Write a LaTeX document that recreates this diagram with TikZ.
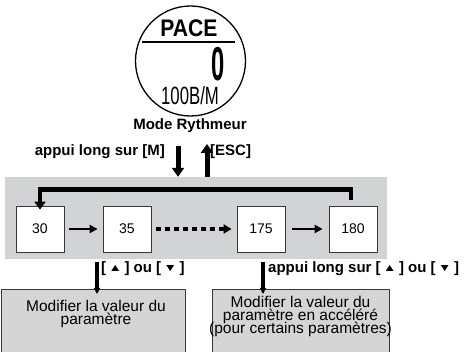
\documentclass[tikz,border=0pt]{standalone}
\usepackage{fontspec}
\setmainfont{Liberation Sans}
\usetikzlibrary{arrows.meta, positioning, calc}
\definecolor{panelgray}{RGB}{210,211,213}
\definecolor{boxgray}{RGB}{213,213,213}
\definecolor{edgegray}{RGB}{55,55,55}

\newcommand{\keyup}{[\,\raisebox{1pt}{\scalebox{0.9}[0.7]{▲}}\,]}
\newcommand{\keydown}{[\,\raisebox{1pt}{\scalebox{0.9}[0.7]{▼}}\,]}

\tikzset{
  lbl/.style={font=\fontsize{15}{15}\selectfont\bfseries, inner sep=0pt},
  valbox/.style={draw=edgegray, fill=white, line width=0.8pt,
    minimum width=48pt, minimum height=46pt, inner sep=0pt,
    font=\fontsize{14}{14}\selectfont},
  modbox/.style={draw=edgegray, fill=boxgray, line width=1pt,
    minimum height=80pt, inner sep=0pt, anchor=north west},
  modtext/.style={align=center, inner sep=0pt, anchor=north,
    font={\fontsize{15.5}{13}\selectfont\lineskiplimit=-20pt\relax}},
  bigarrow/.style={line width=5pt, -{Triangle[length=9pt,width=12pt]}},
  looparrow/.style={line width=4.5pt, -{Triangle[length=8pt,width=11pt]}},
  steparrow/.style={line width=2.5pt, -{Triangle[length=8pt,width=8pt]}},
  dotarrow/.style={line width=4.5pt, dash pattern=on 5pt off 4pt,
    -{Triangle[length=8pt,width=9pt]}},
  keyarrow/.style={line width=3.5pt, -{Triangle[length=6pt,width=6pt]}},
}

\begin{document}
\begin{tikzpicture}[x=1pt, y=-1pt]
  \useasboundingbox (0,0) rectangle (468,352);

  % affichage de la montre
  \draw[line width=1.3pt] (190.5,61) circle (55pt);
  \node[inner sep=0pt, font=\fontsize{24}{24}\selectfont\bfseries] (pace) at (189,28.5) {\scalebox{0.88}[1]{PACE}};
  \draw[line width=2pt] (142,42) -- (235,42);
  \node[inner sep=0pt, font=\fontsize{47.5}{47.5}\selectfont\bfseries] (zero) at (218,64) {\scalebox{0.5}[1]{0}};
  \node[inner sep=0pt, font=\fontsize{25}{25}\selectfont] (unit) at (190,96) {\scalebox{0.67}[1]{100B/M}};
  \node[lbl] (mode) at (190,126) {Mode Rythmeur};

  % panneau des valeurs
  \node[fill=panelgray, minimum width=382pt, minimum height=82pt, inner sep=0pt] (panel) at (196,218) {};

  \node[lbl, anchor=east] (longm) at (165,151.5) {appui long sur [M]};
  \node[lbl, anchor=west] (esc) at (210,151.5) {[ESC]};
  \coordinate (downstart) at (178,146);
  \coordinate (upstart) at (207,177);
  \draw[bigarrow] (downstart) -- (downstart |- panel.north);
  \draw[bigarrow] (upstart) -- ++(0,-33);

  % valeurs
  \node[valbox] (v30) at (40,229) {30};
  \node[valbox] (v35) at (127,229) {35};
  \node[valbox] (v175) at (261,229) {175};
  \node[valbox] (v180) at (353,229) {180};

  \draw[steparrow] ([xshift=5pt]v30.east) -- ([xshift=-5pt]v35.west);
  \draw[dotarrow] ([xshift=5pt]v35.east) -- ([xshift=-5pt]v175.west);
  \draw[steparrow] ([xshift=7pt]v175.east) -- ([xshift=-6pt]v180.west);
  \draw[looparrow, shorten <=6pt] ([xshift=-2pt]v180.north) -- ++(0,-16) -| ([yshift=-4pt]v30.north);

  % modification
  \node[modbox, minimum width=184pt] (mod1) at (1,289) {};
  \node[modbox, minimum width=177pt] (mod2) at (212,289) {};
  \node[modtext] (txt1) at (96,300.5) {Modifier la valeur du\\paramètre};
  \node[modtext] (txt2) at (300.5,296.5) {Modifier la valeur du\\paramètre en accéléré\\(pour certains paramètres)};

  \coordinate (keyl) at (97,262);
  \coordinate (keyr) at (263,262);
  \draw[keyarrow] (keyl) -- ([yshift=-5pt]keyl |- mod1.north);
  \draw[keyarrow] (keyr) -- ([yshift=-5pt]keyr |- mod2.north);
  \node[lbl, anchor=west] (keys1) at (101,268.5) {\keyup{} ou \keydown};
  \node[lbl, anchor=west] (keys2) at (268,268.5) {appui long sur \keyup{} ou \keydown};
\end{tikzpicture}
\end{document}
